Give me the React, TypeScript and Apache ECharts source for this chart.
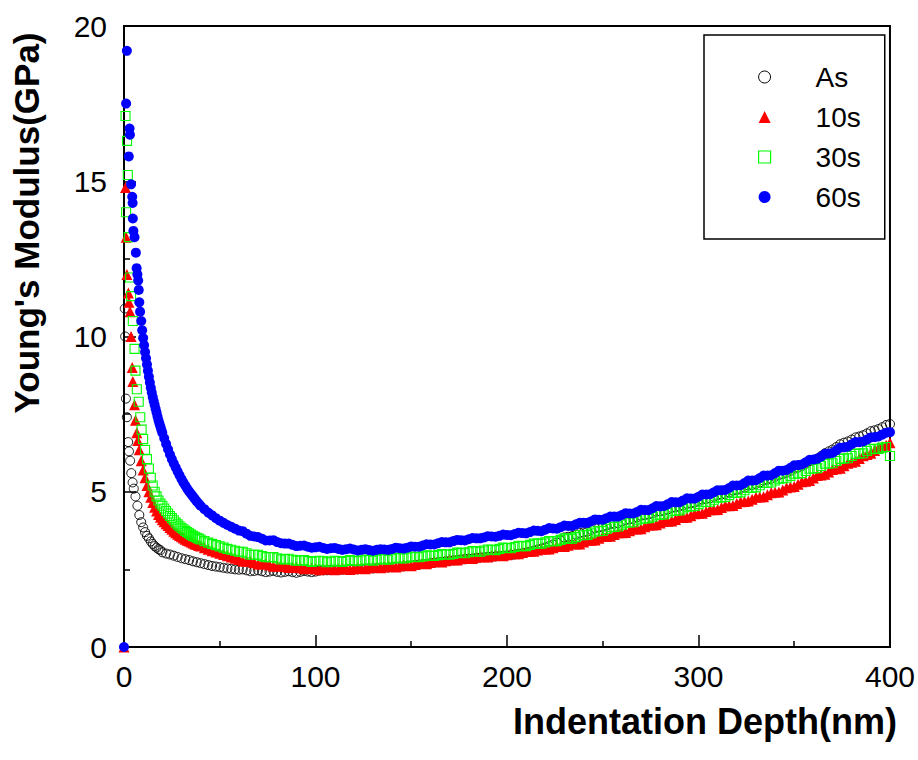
import React, { useEffect, useRef } from "react";
import * as echarts from "echarts";

// ---------- data ----------
const seriesNames = ["As", "10s", "30s", "60s"];
const xTickLabels = ["0", "100", "200", "300", "400"];
const yTickLabels = ["0", "5", "10", "15", "20"];

// shared depth grid for the tail of every curve (nm)
const tailDepth = [
  20, 24, 28, 32, 36, 40, 44, 48, 52, 56,
  60, 64, 68, 72, 76, 80, 84, 88, 92, 96,
  100, 104, 108, 112, 116, 120, 124, 128, 132, 136,
  140, 144, 148, 152, 156, 160, 164, 168, 172, 176,
  180, 184, 188, 192, 196, 200, 204, 208, 212, 216,
  220, 224, 228, 232, 236, 240, 244, 248, 252, 256,
  260, 264, 268, 272, 276, 280, 284, 288, 292, 296,
  300, 304, 308, 312, 316, 320, 324, 328, 332, 336,
  340, 344, 348, 352, 356, 360, 364, 368, 372, 376,
  380, 384, 388, 392, 396, 400,
];
// second, interleaved depth grid (nm)
const midDepth = [
  62, 66, 70, 74, 78, 82, 86, 90, 94, 98,
  102, 106, 110, 114, 118, 122, 126, 130, 134, 138,
  142, 146, 150, 154, 158, 162, 166, 170, 174, 178,
  182, 186, 190, 194, 198, 202, 206, 210, 214, 218,
  222, 226, 230, 234, 238, 242, 246, 250, 254, 258,
  262, 266, 270, 274, 278, 282, 286, 290, 294, 298,
  302, 306, 310, 314, 318, 322, 326, 330, 334, 338,
  342, 346, 350, 354, 358, 362, 366, 370, 374, 378,
  382, 386, 390, 394, 398,
];

// As
const asDepth = [
  0.4, 0.6, 1.0, 1.5, 2.2, 2.6, 3.2, 3.8, 4.5, 5.1,
  6.0, 7.0, 8.0, 9.0, 10, 11, 12, 13, 14, 15,
  16, 17, 18, 19,
  22, 26, 30, 34, 38, 42, 46, 50, 54, 58,
];
const asModulus = [
  10.9, 10.0, 8.0, 7.4, 6.6, 6.3, 6.0, 5.6, 5.3, 5.1,
  4.85, 4.55, 4.25, 4.02, 3.85, 3.7, 3.58, 3.5, 3.4, 3.32,
  3.25, 3.2, 3.15, 3.12,
  3.01, 2.94, 2.86, 2.8, 2.73, 2.67, 2.61, 2.57, 2.53, 2.5,
];
const asTail = [
  3.05, 2.98, 2.9, 2.83, 2.76, 2.7, 2.64, 2.59, 2.55, 2.52,
  2.49, 2.47, 2.45, 2.44, 2.43, 2.42, 2.42, 2.41, 2.42, 2.43,
  2.43, 2.47, 2.48, 2.49, 2.5, 2.5, 2.51, 2.53, 2.54, 2.56,
  2.57, 2.59, 2.61, 2.64, 2.67, 2.7, 2.73, 2.76, 2.79, 2.82,
  2.84, 2.87, 2.89, 2.91, 2.93, 2.95, 2.98, 3.02, 3.07, 3.14,
  3.21, 3.3, 3.42, 3.55, 3.62, 3.69, 3.77, 3.85, 3.91, 3.97,
  4.04, 4.11, 4.18, 4.25, 4.31, 4.37, 4.43, 4.5, 4.56, 4.63,
  4.7, 4.77, 4.84, 4.91, 4.98, 5.06, 5.14, 5.22, 5.3, 5.39,
  5.48, 5.57, 5.67, 5.78, 5.9, 6.02, 6.15, 6.3, 6.44, 6.58,
  6.68, 6.78, 6.88, 6.98, 7.08, 7.18,
];
const asMid = [
  2.5, 2.44, 2.47, 2.41, 2.45, 2.4, 2.44, 2.39, 2.45, 2.41,
  2.46, 2.47, 2.48, 2.49, 2.5, 2.5, 2.52, 2.53, 2.55, 2.56,
  2.58, 2.6, 2.62, 2.65, 2.68, 2.71, 2.74, 2.77, 2.8, 2.83,
  2.85, 2.88, 2.9, 2.92, 2.94, 2.96, 3.0, 3.04, 3.1, 3.17,
  3.25, 3.36, 3.53, 3.57, 3.67, 3.72, 3.83, 3.87, 3.96, 3.99,
  4.09, 4.13, 4.23, 4.27, 4.36, 4.39, 4.48, 4.52, 4.61, 4.65,
  4.75, 4.79, 4.89, 4.93, 5.04, 5.09, 5.2, 5.25, 5.36, 5.42,
  5.54, 5.61, 5.74, 5.83, 5.98, 6.07, 6.24, 6.36, 6.53, 6.62,
  6.75, 6.82, 6.95, 7.02, 7.15,
];

// 10s
const s10Depth = [
  0, 0.8, 1.1, 1.5, 2.3, 2.6, 3.2, 3.7, 4.3, 4.6,
  5.5, 6.0, 6.7, 7.2, 8, 9, 10, 11, 12, 13,
  14, 15, 16, 17, 18, 19,
  21, 22, 23, 25, 26, 27, 29, 30, 31, 33, 34, 35, 37, 38, 39, 42, 46, 50, 54, 58,
];
const s10Modulus = [
  0, 14.8, 13.2, 12.0, 11.4, 11.1, 10.8, 10.0, 9.0, 8.55,
  7.8, 7.3, 6.9, 6.65, 6.35, 6.0, 5.7, 5.45, 5.2, 5.0,
  4.82, 4.65, 4.5, 4.38, 4.27, 4.18,
  4.03, 3.97, 3.91, 3.79, 3.73, 3.68, 3.59, 3.55, 3.51, 3.44, 3.41, 3.38, 3.32, 3.3, 3.27, 3.2, 3.1, 3.02, 2.94, 2.86,
];
const s10Tail = [
  4.1, 3.85, 3.63, 3.47, 3.35, 3.25, 3.15, 3.06, 2.98, 2.9,
  2.82, 2.76, 2.71, 2.67, 2.64, 2.61, 2.59, 2.57, 2.55, 2.53,
  2.52, 2.51, 2.51, 2.51, 2.52, 2.52, 2.53, 2.55, 2.56, 2.58,
  2.59, 2.61, 2.63, 2.66, 2.69, 2.72, 2.75, 2.78, 2.81, 2.84,
  2.86, 2.89, 2.91, 2.93, 2.95, 2.97, 3.0, 3.04, 3.08, 3.12,
  3.16, 3.2, 3.24, 3.28, 3.32, 3.38, 3.44, 3.5, 3.56, 3.62,
  3.68, 3.74, 3.8, 3.87, 3.93, 3.99, 4.05, 4.11, 4.17, 4.23,
  4.3, 4.36, 4.42, 4.49, 4.55, 4.62, 4.69, 4.76, 4.83, 4.9,
  4.98, 5.06, 5.15, 5.24, 5.34, 5.44, 5.54, 5.64, 5.74, 5.84,
  5.95, 6.07, 6.2, 6.33, 6.45, 6.58,
];
const s10Mid = [
  2.77, 2.76, 2.67, 2.68, 2.6, 2.62, 2.56, 2.58, 2.52, 2.55,
  2.49, 2.53, 2.49, 2.54, 2.5, 2.55, 2.52, 2.58, 2.55, 2.61,
  2.58, 2.64, 2.62, 2.7, 2.68, 2.76, 2.74, 2.82, 2.8, 2.87,
  2.85, 2.92, 2.9, 2.96, 2.94, 3.01, 3.0, 3.08, 3.08, 3.16,
  3.16, 3.25, 3.24, 3.33, 3.32, 3.44, 3.45, 3.56, 3.57, 3.68,
  3.69, 3.8, 3.81, 3.93, 3.94, 4.05, 4.06, 4.17, 4.18, 4.29,
  4.31, 4.42, 4.43, 4.55, 4.56, 4.68, 4.7, 4.82, 4.84, 4.97,
  4.99, 5.13, 5.17, 5.32, 5.36, 5.52, 5.56, 5.72, 5.76, 5.92,
  5.98, 6.16, 6.24, 6.42, 6.5,
];

// 30s
const s30Depth = [
  0.8, 1.1, 1.6, 2.0, 2.5, 3.2, 3.7, 4.6, 5.5, 6.0,
  6.7, 7.7, 8.5, 9.2, 10, 11, 12, 13, 14, 15,
  16, 17, 18, 19,
  21, 22, 23, 25, 26, 27, 29, 30, 31, 33, 34, 35, 37, 38, 39, 42, 46, 50, 54, 58,
];
const s30Modulus = [
  17.1, 14.0, 16.3, 15.2, 13.2, 11.9, 11.3, 10.5, 9.6, 8.9,
  8.3, 7.9, 7.4, 7.0, 6.7, 6.35, 6.05, 5.75, 5.45, 5.2,
  5.0, 4.85, 4.72, 4.62,
  4.46, 4.38, 4.3, 4.15, 4.08, 4.01, 3.89, 3.84, 3.79, 3.7, 3.66, 3.62, 3.55, 3.52, 3.49, 3.41, 3.32, 3.24, 3.16, 3.1,
];
const s30Tail = [
  4.55, 4.22, 3.95, 3.74, 3.58, 3.46, 3.36, 3.28, 3.2, 3.13,
  3.07, 3.02, 2.97, 2.93, 2.89, 2.86, 2.83, 2.81, 2.79, 2.77,
  2.76, 2.76, 2.75, 2.76, 2.77, 2.78, 2.79, 2.8, 2.81, 2.83,
  2.84, 2.86, 2.88, 2.9, 2.92, 2.94, 2.96, 2.98, 3.0, 3.03,
  3.05, 3.08, 3.11, 3.13, 3.16, 3.19, 3.22, 3.25, 3.29, 3.33,
  3.37, 3.41, 3.45, 3.49, 3.54, 3.6, 3.66, 3.73, 3.8, 3.87,
  3.94, 4.01, 4.08, 4.14, 4.2, 4.26, 4.33, 4.39, 4.46, 4.53,
  4.6, 4.67, 4.74, 4.82, 4.89, 4.97, 5.05, 5.13, 5.21, 5.29,
  5.36, 5.43, 5.51, 5.59, 5.67, 5.75, 5.83, 5.91, 5.99, 6.07,
  6.15, 6.23, 6.31, 6.38, 6.42, 6.15,
];
const s30Mid = [
  3.07, 2.97, 2.97, 2.89, 2.9, 2.82, 2.84, 2.78, 2.8, 2.74,
  2.78, 2.73, 2.78, 2.74, 2.8, 2.76, 2.82, 2.78, 2.84, 2.81,
  2.87, 2.85, 2.91, 2.89, 2.95, 2.93, 2.99, 2.97, 3.04, 3.02,
  3.09, 3.07, 3.14, 3.12, 3.2, 3.18, 3.26, 3.25, 3.33, 3.33,
  3.41, 3.41, 3.5, 3.49, 3.6, 3.61, 3.72, 3.74, 3.86, 3.88,
  4.0, 4.02, 4.13, 4.15, 4.26, 4.27, 4.39, 4.4, 4.52, 4.54,
  4.66, 4.68, 4.81, 4.83, 4.96, 4.98, 5.12, 5.14, 5.28, 5.3,
  5.42, 5.45, 5.58, 5.6, 5.74, 5.76, 5.9, 5.92, 6.06, 6.08,
  6.22, 6.24, 6.37, 6.38, 6.44,
];

// 60s
const s60Depth = [
  0, 1.1, 1.5, 2.5, 2.9, 3.1, 3.7, 4.3, 4.5, 4.6,
  4.9, 5.5, 6.2, 6.6, 7.0, 7.4, 7.7, 8.0, 8.4, 9.0,
  9.5, 10, 10.5, 11, 11.5, 12, 12.5, 13, 13.5, 14,
  14.5, 15, 15.5, 16, 16.5, 17, 17.5, 18, 18.5, 19, 19.5,
  21, 22, 23, 25, 26, 27, 29, 30, 31, 33, 34, 35, 37, 38, 39,
  42, 46, 50, 54, 58,
];
const s60Modulus = [
  0, 17.5, 19.2, 15.8, 16.7, 16.5, 14.9, 14.5, 14.3, 13.8,
  13.4, 13.2, 12.7, 12.2, 12.0, 11.8, 11.5, 11.1, 10.8, 10.5,
  10.2, 9.95, 9.72, 9.5, 9.3, 9.1, 8.9, 8.7, 8.52, 8.35,
  8.2, 8.05, 7.92, 7.8, 7.67, 7.55, 7.42, 7.3, 7.2, 7.1, 7.0,
  6.72, 6.54, 6.37, 6.05, 5.91, 5.78, 5.53, 5.41, 5.3, 5.1, 5.01, 4.93, 4.77, 4.69, 4.62,
  4.44, 4.24, 4.07, 3.93, 3.81,
];
const s60Tail = [
  6.9, 6.2, 5.65, 5.2, 4.85, 4.55, 4.33, 4.15, 4.0, 3.87,
  3.75, 3.65, 3.56, 3.49, 3.43, 3.38, 3.33, 3.29, 3.26, 3.23,
  3.21, 3.19, 3.18, 3.16, 3.15, 3.14, 3.13, 3.12, 3.13, 3.14,
  3.16, 3.18, 3.2, 3.23, 3.27, 3.3, 3.34, 3.37, 3.41, 3.44,
  3.47, 3.5, 3.53, 3.56, 3.58, 3.61, 3.64, 3.67, 3.7, 3.74,
  3.78, 3.82, 3.86, 3.9, 3.95, 4.0, 4.05, 4.1, 4.15, 4.2,
  4.25, 4.3, 4.35, 4.41, 4.47, 4.53, 4.6, 4.66, 4.72, 4.78,
  4.84, 4.91, 4.98, 5.05, 5.12, 5.2, 5.28, 5.36, 5.44, 5.52,
  5.6, 5.68, 5.77, 5.86, 5.95, 6.04, 6.13, 6.23, 6.33, 6.43,
  6.53, 6.6, 6.68, 6.76, 6.84, 6.92,
];
const s60Mid = [
  3.73, 3.58, 3.54, 3.43, 3.44, 3.34, 3.33, 3.25, 3.27, 3.2,
  3.23, 3.16, 3.19, 3.13, 3.17, 3.11, 3.15, 3.1, 3.15, 3.13,
  3.2, 3.17, 3.24, 3.23, 3.31, 3.3, 3.38, 3.37, 3.45, 3.43,
  3.51, 3.5, 3.57, 3.55, 3.62, 3.6, 3.68, 3.66, 3.75, 3.73,
  3.83, 3.81, 3.91, 3.9, 4.0, 4.0, 4.11, 4.1, 4.2, 4.2,
  4.31, 4.3, 4.42, 4.41, 4.54, 4.54, 4.67, 4.66, 4.79, 4.78,
  4.91, 4.92, 5.05, 5.06, 5.2, 5.21, 5.36, 5.37, 5.52, 5.53,
  5.68, 5.7, 5.85, 5.88, 6.03, 6.06, 6.22, 6.25, 6.42, 6.45,
  6.6, 6.62, 6.75, 6.78, 6.9,
];

// ---------- helpers ----------
const FONT = '"Liberation Sans", Arial, Helvetica, sans-serif';

const pairs = (d: number[], v: number[]) => d.map((x, i) => [x, v[i]]);
const combine = (d: number[], v: number[], tail: number[], mid: number[]) =>
  pairs(d, v).concat(pairs(tailDepth, tail), pairs(midDepth, mid));

export default function App() {
  const ref = useRef<HTMLDivElement>(null);

  useEffect(() => {
    document.body.style.margin = "0";
    if (!ref.current) return;
    const chart = echarts.init(ref.current, undefined, { renderer: "svg" });

    const axisCommon = {
      type: "value" as const,
      axisLine: { show: true, lineStyle: { color: "#000", width: 2 } },
      axisTick: { show: true, inside: true, length: 12, lineStyle: { color: "#000", width: 1.5 } },
      minorTick: { show: true, splitNumber: 2, length: 6, lineStyle: { color: "#000", width: 1.5 } },
      splitLine: { show: false },
      minorSplitLine: { show: false },
    };

    chart.setOption({
      animation: false,
      backgroundColor: "#fff",
      grid: {
        left: 124,
        top: 26,
        width: 766,
        height: 621,
        show: true,
        borderColor: "#000",
        borderWidth: 2,
        backgroundColor: "transparent",
      },
      xAxis: {
        ...axisCommon,
        min: 0,
        max: 400,
        interval: 100,
        axisLabel: {
          fontSize: 30,
          fontFamily: FONT,
          color: "#000",
          margin: 14,
          formatter: (v: number) => xTickLabels[Math.round(v / 100)] ?? String(v),
        },
      },
      yAxis: {
        ...axisCommon,
        min: 0,
        max: 20,
        interval: 5,
        axisLabel: {
          fontSize: 30,
          fontFamily: FONT,
          color: "#000",
          margin: 17,
          formatter: (v: number) => yTickLabels[Math.round(v / 5)] ?? String(v),
        },
      },
      legend: {
        orient: "vertical",
        left: 704,
        top: 35,
        padding: [28, 24, 28, 54],
        itemWidth: 12,
        itemHeight: 12,
        itemGap: 12,
        borderColor: "#000",
        borderWidth: 1.5,
        selectedMode: false,
        textStyle: {
          fontSize: 28,
          fontFamily: FONT,
          color: "#000",
          lineHeight: 28,
          padding: [0, 0, 0, 40],
        },
        data: [
          { name: seriesNames[0], icon: "circle", itemStyle: { color: "rgba(0,0,0,0)", borderColor: "#000", borderWidth: 1, opacity: 1 } },
          { name: seriesNames[1], icon: "triangle", itemStyle: { color: "#ff0000", opacity: 1 } },
          { name: seriesNames[2], icon: "rect", itemStyle: { color: "rgba(0,0,0,0)", borderColor: "#00ff00", borderWidth: 1.2, opacity: 1 } },
          { name: seriesNames[3], icon: "circle", itemStyle: { color: "#0000ff", opacity: 1 } },
        ],
      },
      graphic: [
        {
          type: "text",
          x: 26,
          y: 223,
          rotation: Math.PI / 2,
          style: {
            text: "Young's Modulus(GPa)",
            fontSize: 35,
            fontWeight: "bold",
            fontFamily: FONT,
            fill: "#000",
            align: "center",
            verticalAlign: "middle",
          },
        },
        {
          type: "text",
          x: 705,
          y: 721,
          style: {
            text: "Indentation Depth(nm)",
            fontSize: 36,
            fontWeight: "bold",
            fontFamily: FONT,
            fill: "#000",
            align: "center",
            verticalAlign: "middle",
          },
        },
      ],
      series: [
        {
          name: seriesNames[0],
          type: "scatter",
          symbol: "circle",
          symbolSize: 9,
          silent: true,
          itemStyle: { color: "rgba(0,0,0,0)", borderColor: "#000", borderWidth: 0.9, opacity: 1 },
          data: combine(asDepth, asModulus, asTail, asMid),
        },
        {
          name: seriesNames[1],
          type: "scatter",
          symbol: "triangle",
          symbolSize: 11,
          silent: true,
          itemStyle: { color: "#ff0000", opacity: 1 },
          data: combine(s10Depth, s10Modulus, s10Tail, s10Mid),
        },
        {
          name: seriesNames[2],
          type: "scatter",
          symbol: "rect",
          symbolSize: 9,
          silent: true,
          itemStyle: { color: "rgba(0,0,0,0)", borderColor: "#00ff00", borderWidth: 1.1, opacity: 1 },
          data: combine(s30Depth, s30Modulus, s30Tail, s30Mid),
        },
        {
          name: seriesNames[3],
          type: "scatter",
          symbol: "circle",
          symbolSize: 10,
          silent: true,
          itemStyle: { color: "#0000ff", opacity: 1 },
          data: combine(s60Depth, s60Modulus, s60Tail, s60Mid),
        },
      ],
    });

    return () => chart.dispose();
  }, []);

  return <div ref={ref} style={{ width: 918, height: 760 }} />;
}
